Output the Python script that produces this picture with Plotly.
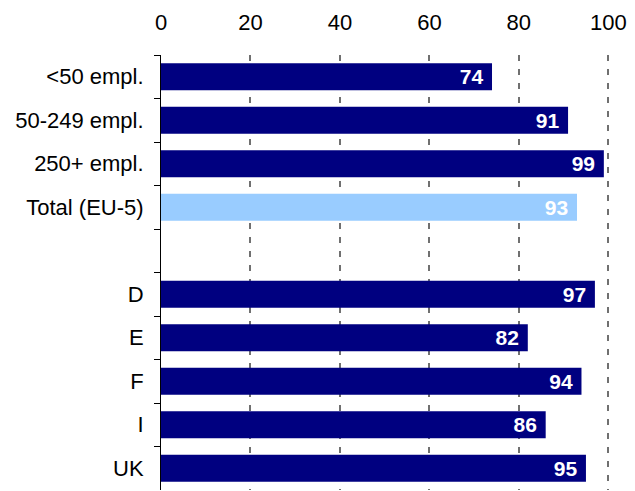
import plotly.graph_objects as go

categories = ["<50 empl.", "50-249 empl.", "250+ empl.", "Total (EU-5)", " ", "D", "E", "F", "I", "UK"]
values = [74, 91, 99, 93, None, 97, 82, 94, 86, 95]
bar_colors = ["#000080", "#000080", "#000080", "#99CCFF", "#000080",
              "#000080", "#000080", "#000080", "#000080", "#000080"]
x_ticks = [0, 20, 40, 60, 80, 100]

labels = ["" if v is None else str(v) + "\u00a0" for v in values]

fig = go.Figure(go.Bar(
    y=categories, x=values, orientation="h",
    marker=dict(color=bar_colors, line=dict(width=0)),
    width=0.62,
    text=labels, textposition="inside", insidetextanchor="end",
    constraintext="none",
    textfont=dict(family="Liberation Sans, Arial", size=21, color="white", weight="bold"),
    cliponaxis=False,
))

fig.update_layout(
    width=635, height=491,
    margin=dict(l=161, r=24, t=55, b=1),
    plot_bgcolor="white", paper_bgcolor="white",
    font=dict(family="Liberation Sans, Arial", size=22, color="black"),
    showlegend=False,
)
fig.update_xaxes(
    range=[0, 100.6], side="top", tickvals=x_ticks, ticks="",
    showgrid=True, gridcolor="#707070", griddash="6px,8px", gridwidth=1.5,
    zeroline=False, showline=False, ticklabelstandoff=20,
    tickfont=dict(size=22),
)
fig.update_yaxes(
    categoryorder="array", categoryarray=categories, autorange="reversed",
    showline=True, linecolor="black", linewidth=1,
    ticks="outside", tickson="boundaries", ticklen=6, tickcolor="black",
    showgrid=False, ticklabelstandoff=12,
    tickfont=dict(size=22),
)

fig.write_html("out.html")
